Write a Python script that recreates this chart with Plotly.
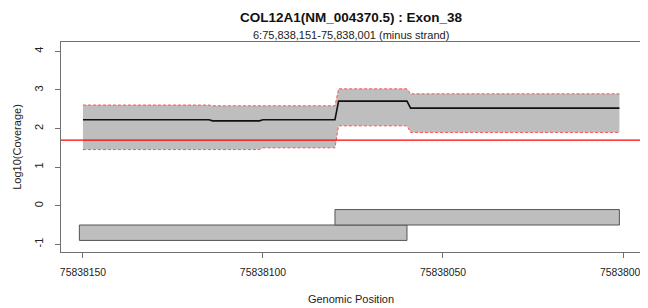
import numpy as np
import plotly.graph_objects as go

# ---- data ----
positions = [75838150, 75838115, 75838114, 75838101, 75838100, 75838080, 75838079,
             75838060, 75838059, 75838039, 75838038, 75838026, 75838025, 75838001]
mean_log = [2.23, 2.23, 2.20, 2.20, 2.23, 2.23, 2.71, 2.71, 2.53, 2.53, 2.52, 2.52, 2.53, 2.53]
upper_log = [2.61, 2.61, 2.59, 2.59, 2.59, 2.59, 3.03, 3.03, 2.90, 2.90, 2.90, 2.90, 2.90, 2.90]
lower_log = [1.455, 1.455, 1.455, 1.455, 1.50, 1.50, 2.07, 2.07, 1.90, 1.90, 1.90, 1.90, 1.90, 1.90]
threshold_coverage = 50

amp_start = [75838151, 75838080]
amp_end = [75838060, 75838001]
amp_low = [-0.9, -0.5]
amp_high = [-0.5, -0.1]

x_ticks = [75838150, 75838100, 75838050, 75838000]
y_ticks = [-1, 0, 1, 2, 3, 4]

title_text = "COL12A1(NM_004370.5) : Exon_38"
subtitle_text = "6:75,838,151-75,838,001 (minus strand)"

FONT = "Liberation Sans, Arial, sans-serif"
GREY = "#BEBEBE"
AX = "#707070"
# the page body adds an 8px offset, so the figure is 8px smaller than the window
W, H = 640, 300
L, R, T, B = 53, 6.7, 34.3, 56.3
PH = H - T - B

fig = go.Figure()
fig.add_trace(go.Scatter(x=positions, y=upper_log, mode="lines",
                         line=dict(width=0, color=GREY), showlegend=False, hoverinfo="skip"))
fig.add_trace(go.Scatter(x=positions, y=lower_log, mode="lines", fill="tonexty",
                         fillcolor=GREY, line=dict(width=0, color=GREY),
                         showlegend=False, hoverinfo="skip"))
for ys in (upper_log, lower_log):
    fig.add_trace(go.Scatter(x=positions, y=ys, mode="lines",
                             line=dict(color="rgba(255,40,40,0.75)", width=1, dash="3px,2px"),
                             showlegend=False))
fig.add_trace(go.Scatter(x=positions, y=mean_log, mode="lines",
                         line=dict(color="#111111", width=1.6), showlegend=False))

# threshold line
fig.add_shape(type="line", xref="paper", x0=0, x1=1, yref="y",
              y0=float(np.log10(threshold_coverage)), y1=float(np.log10(threshold_coverage)),
              line=dict(color="#FF0000", width=1.4), layer="above")

# amplicon boxes
for s, e, lo, hi in zip(amp_start, amp_end, amp_low, amp_high):
    fig.add_shape(type="rect", xref="x", yref="y", x0=s, x1=e, y0=lo, y1=hi,
                  fillcolor=GREY, line=dict(color="#555555", width=1), layer="above")

fig.update_layout(
    width=W, height=H,
    margin=dict(l=L, r=R, t=T, b=B, autoexpand=False),
    paper_bgcolor="white", plot_bgcolor="white",
    font=dict(family=FONT, size=11, color="#222222"),
    title=dict(text="<b>" + title_text + "</b>", x=0.5, xref="paper",
               y=1 - 9 / H, yref="container", yanchor="middle", automargin=False,
               font=dict(size=13.5, family=FONT, color="#111111")),
    annotations=[dict(text=subtitle_text, xref="paper", yref="paper",
                      x=0.5, y=1 + 7.3 / PH, yanchor="middle", showarrow=False,
                      font=dict(size=11, family=FONT, color="#222222"))],
)
fig.update_xaxes(range=[75838156.1, 75837995.0], tickvals=x_ticks,
                 ticktext=[str(v) for v in x_ticks], automargin=False,
                 showgrid=False, zeroline=False, showline=True, mirror=True,
                 linecolor=AX, linewidth=1, ticks="outside", ticklen=5, tickcolor=AX,
                 ticklabelstandoff=6, tickfont=dict(size=10.4),
                 title=dict(text="Genomic Position", standoff=17, font=dict(size=11)))
fig.update_yaxes(range=[-1.2, 4.244], tickvals=y_ticks,
                 ticktext=[str(v) for v in y_ticks], tickangle=-90, automargin=False,
                 showgrid=False, zeroline=False, showline=True, mirror=True,
                 linecolor=AX, linewidth=1, ticks="outside", ticklen=5, tickcolor=AX,
                 ticklabelstandoff=8,
                 title=dict(text="Log10(Coverage)", standoff=8, font=dict(size=11)))

fig.write_html("out.html")
